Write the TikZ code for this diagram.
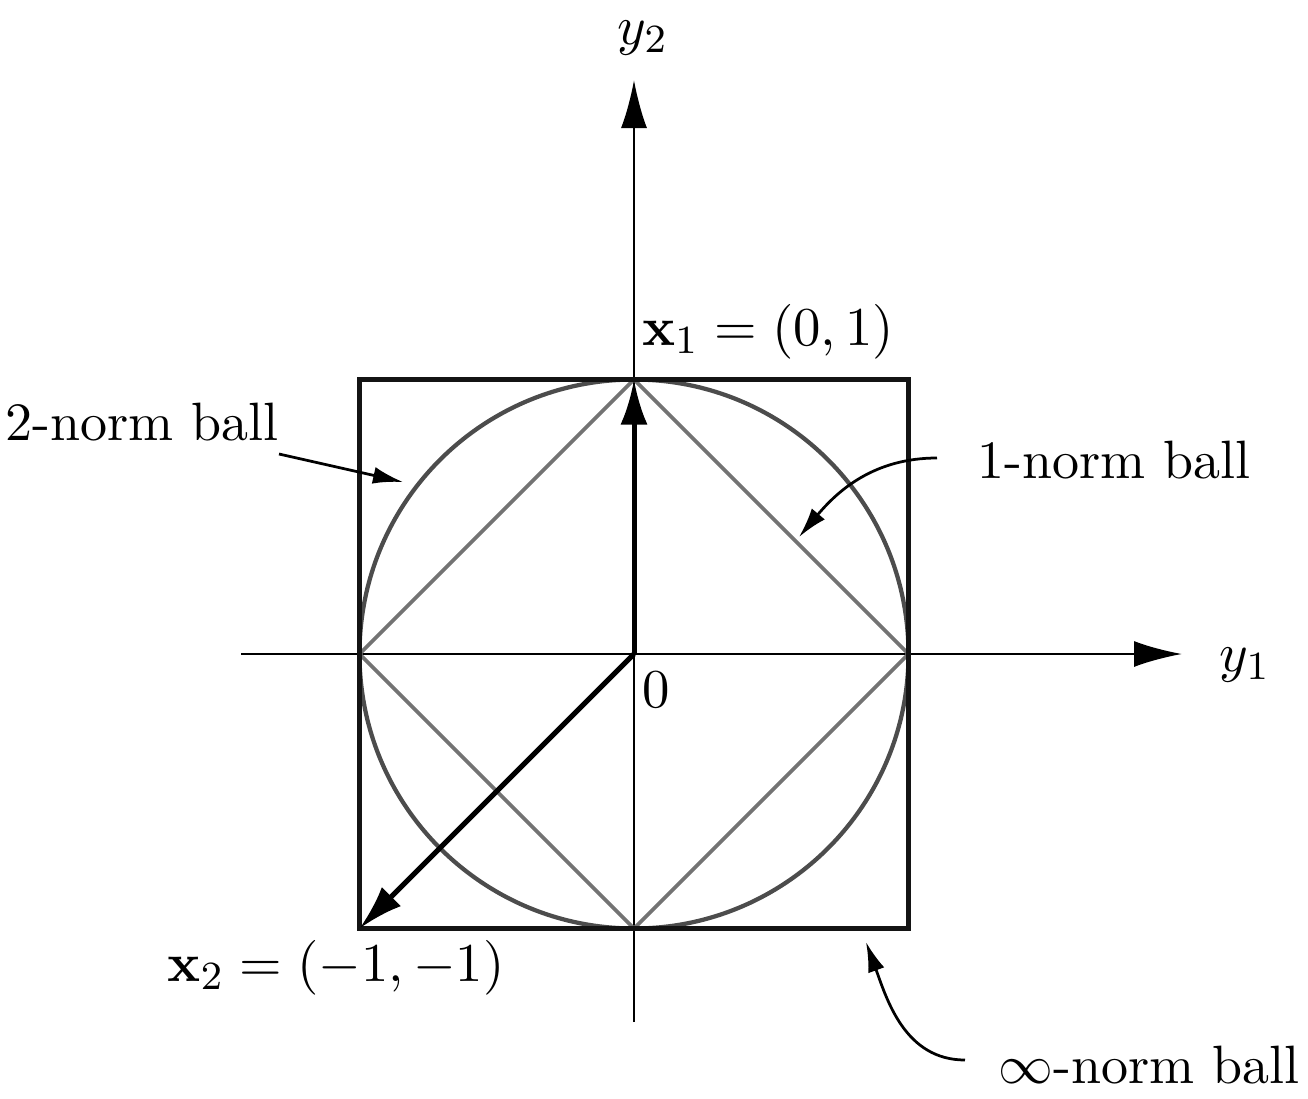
\documentclass[tikz,border=0pt]{standalone}
\usetikzlibrary{arrows.meta}
\begin{document}
\begin{tikzpicture}[x=0.2pt,y=0.2pt,
  axis/.style={line width=0.45pt,black,-{Latex[length=9.6pt,width=5.2pt]}},
  vec/.style={line width=1pt,black,-{Latex[length=9pt,width=5.4pt]}},
  note/.style={line width=0.55pt,black,-{Latex[length=6pt,width=3.4pt]}},
  lbl/.style={inner sep=0pt,font=\fontsize{10.8}{13}\selectfont},
  sqbox/.style={line width=0.95pt,black!92},
  circ/.style={line width=0.85pt,black!70},
  diam/.style={line width=0.75pt,black!55}]
\useasboundingbox (0,0) rectangle (1308,1098);
\coordinate (O) at (634,444);
\coordinate (T) at (634,718.5);
\coordinate (B) at (634,169.5);
\coordinate (L) at (359.5,444);
\coordinate (R) at (908.5,444);
\coordinate (BL) at (359.5,169.5);
\coordinate (TR) at (908.5,718.5);
\coordinate (ax1s) at (241,444);
\coordinate (ax1e) at (1182,444);
\coordinate (ax2s) at (634,76);
\coordinate (ax2e) at (634,1018);
% axes
\draw[axis] (ax1s) -- (ax1e);
\draw[axis] (ax2s) -- (ax2e);
% balls
\draw[diam] (T) -- (R) -- (B) -- (L) -- cycle;
\draw[circ] (O) circle[radius=274.5];
\draw[sqbox] (BL) rectangle (TR);
% vectors
\draw[vec] (O) -- (T);
\draw[vec] (O) -- (BL);
% labels
\node[lbl] (ly2) at (643,1060) {$y_2$};
\node[lbl] (ly1) at (1245,433) {$y_1$};
\node[lbl] (l0) at (656,408) {$0$};
\node[lbl] (lx1) at (768,766) {$\mathbf{x}_1=(0,1)$};
\node[lbl] (lx2) at (336,130) {$\mathbf{x}_2=(-1,-1)$};
\node[lbl] (l2n) at (142,676) {2-norm ball};
\node[lbl] (l1n) at (1114,638) {1-norm ball};
\node[lbl] (linf) at (1149,33) {$\infty$-norm ball};
% annotation arrows
\coordinate (a2s) at (279,644);
\coordinate (a2e) at (403,616);
\coordinate (a1s) at (937,640);
\coordinate (a1e) at (799,561);
\coordinate (ais) at (965,38);
\coordinate (aie) at (866,156);
\draw[note] (a2s) -- (a2e);
\draw[note] (a1s) to[out=180,in=50] (a1e);
\draw[note] (ais) to[out=180,in=-70] (aie);
\end{tikzpicture}
\end{document}
